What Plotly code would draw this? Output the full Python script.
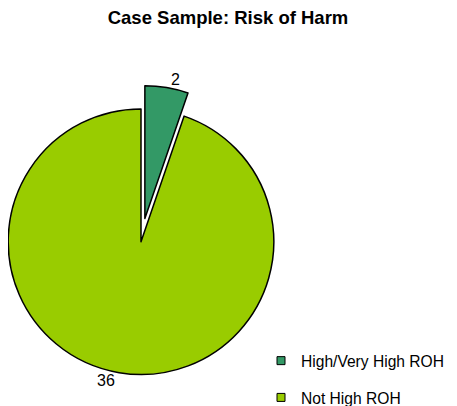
import math
import plotly.graph_objects as go

# ---- data ----
categories = ["High/Very High ROH", "Not High ROH"]
counts = [2, 36]
slice_colors = ["#339966", "#99CC00"]
title_text = "Case Sample: Risk of Harm"

# figure size (page body adds an 8px margin around the plot div)
W, H = 449, 398
OFF = 8
FONT = "Arial, Liberation Sans, sans-serif"
CLEAR = "rgba(0,0,0,0)"

# pie geometry in screen pixels (layout)
scx, scy, r = 141.0, 241.7, 132.8
pull_px = 23.5
cx, cy = scx - OFF, scy - OFF

def dom(cxp, cyp):
    return dict(x=[max(0, (cxp - r) / W), min(1, (cxp + r) / W)],
                y=[max(0, 1 - (cyp + r) / H), min(1, 1 - (cyp - r) / H)])

# direction of the exploded slice (middle angle, clockwise from 12 o'clock)
mid = math.pi * counts[0] / sum(counts)
ox, oy = pull_px * math.sin(mid), -pull_px * math.cos(mid)

fig = go.Figure()

# main body (remaining slice)
fig.add_trace(go.Pie(
    labels=categories, values=counts, sort=False, direction="clockwise", rotation=0,
    domain=dom(cx, cy),
    marker=dict(colors=[CLEAR, slice_colors[1]],
                line=dict(color=[CLEAR, "black"], width=1.5)),
    textinfo="value", textposition=["none", "outside"],
    outsidetextfont=dict(family=FONT, size=16, color="black"),
    showlegend=False, hoverinfo="label+value",
))

# exploded slice
fig.add_trace(go.Pie(
    labels=categories, values=counts, sort=False, direction="clockwise", rotation=0,
    domain=dom(cx + ox, cy + oy),
    marker=dict(colors=[slice_colors[0], CLEAR],
                line=dict(color=["black", CLEAR], width=1.5)),
    textinfo="value", textposition=["outside", "none"],
    outsidetextfont=dict(family=FONT, size=16, color="black"),
    showlegend=False, hoverinfo="label+value",
))

# legend entries
for i, (lab, col) in enumerate(zip(categories, slice_colors)):
    fig.add_trace(go.Scatter(
        x=[None], y=[None], mode="markers", name=lab, legendgroup=f"g{i}",
        marker=dict(symbol="square", size=8, color=col, line=dict(color="black", width=1)),
    ))

fig.update_layout(
    width=W, height=H,
    margin=dict(l=0, r=0, t=0, b=0, autoexpand=False),
    paper_bgcolor="white", plot_bgcolor="white",
    title=dict(text=f"<b>{title_text}</b>", x=220 / W, xanchor="center",
               y=1 - 9.5 / H, yref="container", yanchor="middle",
               font=dict(family=FONT, size=18.5, color="black")),
    xaxis=dict(visible=False), yaxis=dict(visible=False),
    legend=dict(x=253 / W, xanchor="left", y=1 - 336 / H, yanchor="top",
                font=dict(family=FONT, size=15.6, color="black"),
                tracegroupgap=13.5, bgcolor="rgba(0,0,0,0)", borderwidth=0),
    showlegend=True,
)

fig.write_html("out.html")
